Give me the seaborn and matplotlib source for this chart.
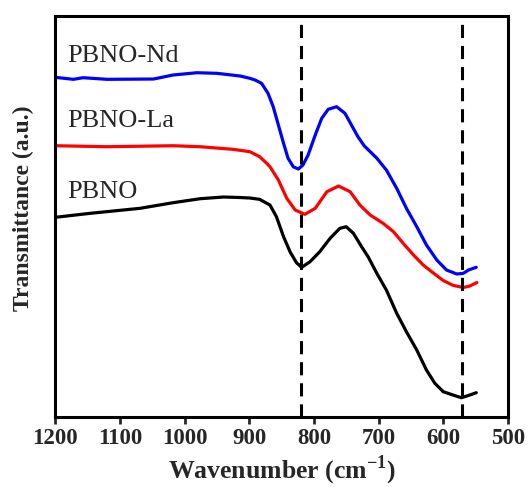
import numpy as np
import pandas as pd
import matplotlib
matplotlib.use("Agg")
import matplotlib.pyplot as plt
import seaborn as sns

# FTIR spectra (arbitrary transmittance units, offset for clarity)
wn_pbno = [1200, 1146, 1069, 1018, 976, 940, 914, 899, 884, 868, 858, 847, 837,
           827, 819, 806, 791, 775, 760, 750, 739, 726, 716, 703, 688, 672, 657,
           641, 626, 613, 600, 585, 572, 559, 549]
t_pbno = [199.7, 203.7, 208.7, 214.3, 218.3, 220.0, 219.5, 219.0, 217.7, 212.0,
          200.3, 180.3, 165.3, 154.3, 149.7, 155.3, 165.3, 178.7, 188.7, 190.3,
          183.7, 170.0, 160.0, 144.0, 127.0, 103.7, 85.3, 67.0, 47.0, 33.7, 25.3,
          22.0, 19.3, 22.0, 24.3]

wn_la = [1200, 1120, 1018, 976, 925, 899, 884, 873, 868, 855, 842, 829, 814,
         798, 780, 762, 744, 729, 713, 693, 677, 662, 646, 631, 616, 600, 585,
         569, 559, 548]
t_la = [271.3, 270.3, 271.3, 270.3, 267.7, 265.3, 260.3, 253.7, 250.3, 237.0,
        218.7, 207.0, 202.7, 208.7, 225.3, 231.0, 225.3, 212.0, 202.0, 193.7,
        185.3, 173.7, 162.0, 152.0, 144.3, 136.5, 131.7, 129.5, 131.0, 134.5]

wn_nd = [1200, 1172, 1157, 1120, 1048, 1018, 981, 950, 914, 899, 891, 881, 871,
         863, 855, 847, 840, 832, 824, 817, 809, 798, 788, 778, 765, 752, 742,
         732, 722, 703, 688, 672, 657, 641, 626, 610, 595, 579, 569, 561, 549]
t_nd = [339.7, 337.7, 339.3, 337.7, 338.0, 342.0, 344.3, 343.7, 341.0, 338.7,
        337.0, 333.7, 323.7, 310.3, 292.0, 273.7, 258.7, 250.3, 248.0, 252.0,
        262.0, 282.0, 298.7, 307.7, 310.3, 303.7, 292.0, 280.3, 271.0, 259.0,
        247.0, 228.7, 208.7, 190.3, 172.0, 157.0, 147.0, 143.0, 143.7, 147.0,
        149.7]

samples = ["PBNO", "PBNO-La", "PBNO-Nd"]
colors = ["black", "red", "blue"]
label_y = [218.7, 290.3, 355.3]
ref_lines = [820, 571]
x_ticks = [1200, 1100, 1000, 900, 800, 700, 600, 500]

df = pd.concat([
    pd.DataFrame({"wavenumber": wn_pbno, "T": t_pbno, "sample": "PBNO"}),
    pd.DataFrame({"wavenumber": wn_la, "T": t_la, "sample": "PBNO-La"}),
    pd.DataFrame({"wavenumber": wn_nd, "T": t_nd, "sample": "PBNO-Nd"}),
], ignore_index=True)

sns.set_style("white")
plt.rcParams["font.family"] = ["Liberation Serif", "DejaVu Serif"]
plt.rcParams["mathtext.fontset"] = "custom"
plt.rcParams["mathtext.rm"] = "Liberation Serif:bold"
plt.rcParams["mathtext.bf"] = "Liberation Serif:bold"
plt.rcParams["lines.solid_joinstyle"] = "round"
plt.rcParams["lines.solid_capstyle"] = "round"

fig = plt.figure(figsize=(5.28, 4.87), dpi=100)
ax = fig.add_axes([0.1047, 0.1437, 0.8573, 0.8234])

sns.lineplot(data=df, x="wavenumber", y="T", hue="sample",
             palette=dict(zip(samples, colors)), linewidth=2.3,
             legend=False, ax=ax, estimator=None, sort=False)

for xv in ref_lines:
    ax.axvline(xv, color="black", linewidth=2.2, linestyle=(0, (4.3, 2.6)))

for name, y in zip(samples, label_y):
    ax.text(1182, y, name, fontsize=19, va="baseline", ha="left")

ax.set_xlim(1200, 500)
ax.set_ylim(0, 401)
ax.set_xticks(x_ticks)
ax.set_yticks([])
ax.tick_params(axis="x", direction="out", length=5, width=2, labelsize=16.5,
               bottom=True, top=False, pad=3)
for lab in ax.get_xticklabels():
    lab.set_fontweight("bold")
for sp in ax.spines.values():
    sp.set_linewidth(2.2)
    sp.set_color("black")

ax.set_xlabel(r"Wavenumber (cm$^{-1}$)", fontsize=18.5, fontweight="bold", labelpad=3)
ax.set_ylabel("Transmittance (a.u.)", fontsize=17, fontweight="bold")
ax.yaxis.set_label_coords(-0.046, 0.52)

fig.savefig("out.png", dpi=100)
